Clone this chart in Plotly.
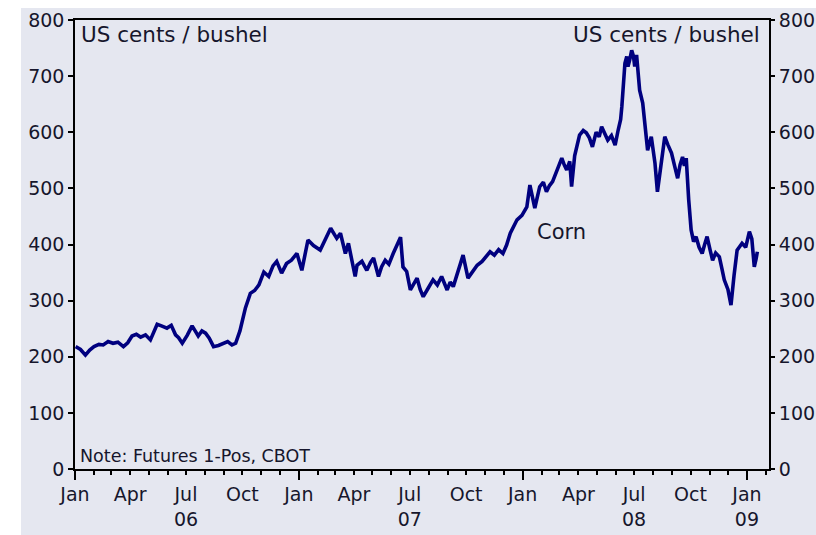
import plotly.graph_objects as go

dates = [
    "2006-01-02", "2006-01-10", "2006-01-18", "2006-01-25", "2006-02-01", "2006-02-09",
    "2006-02-16", "2006-02-24", "2006-03-04", "2006-03-12", "2006-03-21", "2006-03-28",
    "2006-04-04", "2006-04-11", "2006-04-18", "2006-04-26", "2006-05-04", "2006-05-10",
    "2006-05-15", "2006-05-22", "2006-05-31", "2006-06-07", "2006-06-14", "2006-06-19",
    "2006-06-25", "2006-07-03", "2006-07-11", "2006-07-16", "2006-07-21", "2006-07-27",
    "2006-08-02", "2006-08-08", "2006-08-15", "2006-08-23", "2006-08-31", "2006-09-07",
    "2006-09-14", "2006-09-20", "2006-09-27", "2006-10-03", "2006-10-06", "2006-10-14",
    "2006-10-21", "2006-10-28", "2006-11-05", "2006-11-13", "2006-11-20", "2006-11-26",
    "2006-12-04", "2006-12-12", "2006-12-20", "2006-12-29",
    "2007-01-06", "2007-01-16", "2007-01-25", "2007-02-05", "2007-02-14", "2007-02-22",
    "2007-03-04", "2007-03-10", "2007-03-18", "2007-03-23", "2007-04-03", "2007-04-06",
    "2007-04-14", "2007-04-22", "2007-04-28", "2007-05-03", "2007-05-11", "2007-05-16",
    "2007-05-22", "2007-05-28", "2007-06-04", "2007-06-10", "2007-06-16", "2007-06-20",
    "2007-06-26", "2007-07-02", "2007-07-08", "2007-07-13", "2007-07-18", "2007-07-23",
    "2007-07-31", "2007-08-08", "2007-08-15", "2007-08-22", "2007-08-31", "2007-09-05",
    "2007-09-10", "2007-09-18", "2007-09-26", "2007-10-04", "2007-10-11", "2007-10-19",
    "2007-10-27", "2007-11-02", "2007-11-09", "2007-11-16", "2007-11-23", "2007-11-30",
    "2007-12-06", "2007-12-12", "2007-12-17", "2007-12-23", "2007-12-31",
    "2008-01-08", "2008-01-13", "2008-01-21", "2008-01-29", "2008-02-04", "2008-02-09",
    "2008-02-14", "2008-02-19", "2008-02-26", "2008-03-05", "2008-03-09", "2008-03-13",
    "2008-03-18", "2008-03-21", "2008-03-26", "2008-03-31", "2008-04-03", "2008-04-09",
    "2008-04-14", "2008-04-19", "2008-04-24", "2008-04-30", "2008-05-05", "2008-05-09",
    "2008-05-14", "2008-05-19", "2008-05-25", "2008-05-31", "2008-06-05", "2008-06-09",
    "2008-06-11", "2008-06-14", "2008-06-16", "2008-06-19", "2008-06-21", "2008-06-24",
    "2008-06-27", "2008-06-30", "2008-07-02", "2008-07-05", "2008-07-10", "2008-07-15",
    "2008-07-19", "2008-07-23", "2008-07-29", "2008-08-04", "2008-08-08", "2008-08-14",
    "2008-08-20", "2008-08-25", "2008-08-31", "2008-09-05", "2008-09-10", "2008-09-14",
    "2008-09-18", "2008-09-21", "2008-09-24", "2008-09-28", "2008-10-02", "2008-10-06",
    "2008-10-10", "2008-10-15", "2008-10-20", "2008-10-24", "2008-10-28", "2008-11-02",
    "2008-11-06", "2008-11-11", "2008-11-17", "2008-11-21", "2008-11-25", "2008-12-01",
    "2008-12-06", "2008-12-11", "2008-12-16", "2008-12-20", "2008-12-24", "2008-12-30",
    "2009-01-05", "2009-01-09", "2009-01-13", "2009-01-16", "2009-01-18",
]
corn = [
    218, 213, 203, 212, 218, 222,
    221, 227, 224, 226, 218, 225,
    237, 240, 235, 239, 230, 244,
    258, 255, 251, 256, 239, 234,
    224, 238, 255, 246, 237, 246,
    242, 233, 218, 220, 224, 227,
    221, 224, 246, 274, 287, 313,
    318, 328, 351, 343, 362, 370,
    349, 366, 372, 384,
    354, 408, 398, 390, 412, 429,
    411, 420, 384, 402, 343, 363,
    370, 354, 368, 376, 343, 360,
    372, 365, 384, 398, 413, 360,
    352, 319, 331, 340, 320, 307,
    322, 337, 328, 343, 319, 333,
    325, 351, 381, 340, 352, 363,
    370, 379, 387, 381, 391, 384,
    399, 420, 432, 444, 452,
    467, 506, 465, 503, 511, 494,
    505, 512, 530, 554, 542, 533,
    548, 503, 558, 586, 595, 603,
    599, 590, 574, 600, 592, 610,
    596, 586, 594, 577, 604, 623,
    646, 690, 723, 735, 717, 730,
    746, 735, 717, 738, 675, 652,
    610, 568, 592, 545, 494, 540,
    592, 578, 563, 540, 518, 542,
    556, 540, 554, 480, 426, 405,
    414, 395, 384, 400, 414, 390,
    372, 385, 378, 358, 337, 320,
    292, 345, 390, 396, 402, 395,
    423, 410, 360, 375, 387,
]

jan_ticks = ["2006-01-01", "2007-01-01", "2008-01-01", "2009-01-01"]
label_ticks = [
    "2006-01-01", "2006-04-01", "2006-07-01", "2006-10-01",
    "2007-01-01", "2007-04-01", "2007-07-01", "2007-10-01",
    "2008-01-01", "2008-04-01", "2008-07-01", "2008-10-01",
    "2009-01-01",
]
label_text = [
    "Jan", "Apr", "Jul<br>06", "Oct",
    "Jan", "Apr", "Jul<br>07", "Oct",
    "Jan", "Apr", "Jul<br>08", "Oct",
    "Jan<br>09",
]
y_ticks = [0, 100, 200, 300, 400, 500, 600, 700, 800]

BG = "#e5e7f0"
TXT = "#16162c"
FONT = "DejaVu Sans"
x_range = ["2006-01-01", "2009-02-06"]

fig = go.Figure()
fig.add_trace(go.Scatter(x=dates, y=corn, mode="lines",
                         line=dict(color="#00007f", width=3.6),
                         showlegend=False, hoverinfo="skip"))
fig.add_trace(go.Scatter(x=[], y=[], xaxis="x2", yaxis="y", showlegend=False))
fig.add_trace(go.Scatter(x=[], y=[], xaxis="x", yaxis="y2", showlegend=False))

fig.update_layout(
    width=816, height=535,
    margin=dict(l=75, r=47, t=20, b=66, pad=0, autoexpand=False),
    paper_bgcolor=BG, plot_bgcolor=BG,
    font=dict(family=FONT, size=19, color=TXT),
    xaxis=dict(
        range=x_range, type="date", automargin=False,
        tickvals=jan_ticks, ticks="outside", ticklen=9, tickwidth=1.5, tickcolor="black",
        showticklabels=False,
        minor=dict(dtick="M1", tick0="2006-01-01", ticks="outside", ticklen=4,
                   tickwidth=1.5, tickcolor="black", showgrid=False),
        showgrid=False, zeroline=False,
        showline=True, linecolor="black", linewidth=1.5, mirror=True,
    ),
    xaxis2=dict(
        range=x_range, type="date", overlaying="x", anchor="y", side="bottom",
        automargin=False,
        tickvals=label_ticks, ticktext=label_text, ticks="",
        ticklabelstandoff=12,
        showgrid=False, zeroline=False, showline=False,
    ),
    yaxis=dict(
        range=[0, 800], tickvals=y_ticks, ticks="outside", ticklen=5,
        tickwidth=1.5, tickcolor="black", automargin=False,
        showgrid=False, zeroline=False,
        showline=True, linecolor="black", linewidth=1.5, mirror=True,
    ),
    yaxis2=dict(
        range=[0, 800], tickvals=y_ticks, ticks="outside", ticklen=5,
        tickwidth=1.5, tickcolor="black", overlaying="y", side="right", anchor="x",
        automargin=False,
        showgrid=False, zeroline=False, showline=False,
    ),
    shapes=[
        dict(type="rect", xref="paper", yref="paper",
             x0=-0.2, x1=-0.0778, y0=-0.3, y1=1.3,
             fillcolor="white", line=dict(width=0), layer="below"),
        dict(type="rect", xref="paper", yref="paper",
             x0=-0.2, x1=1.2, y0=1.0267, y1=1.3,
             fillcolor="white", line=dict(width=0), layer="below"),
    ],
    annotations=[
        dict(text="US cents / bushel", xref="paper", yref="paper", x=0.006, y=1.0,
             xanchor="left", yanchor="top", showarrow=False, font=dict(size=21.5)),
        dict(text="US cents / bushel", xref="paper", yref="paper", x=0.990, y=1.0,
             xanchor="right", yanchor="top", showarrow=False, font=dict(size=21.5)),
        dict(text="Note: Futures 1-Pos, CBOT", xref="paper", yref="paper", x=0.004, y=0.029,
             xanchor="left", yanchor="middle", showarrow=False, font=dict(size=17.5)),
        dict(text="Corn", xref="paper", yref="paper", x=0.663, y=0.528,
             xanchor="left", yanchor="middle", showarrow=False, font=dict(size=21)),
    ],
)

fig.write_html("out.html",
               config={"displayModeBar": False},
               post_script="document.body.style.margin='0';document.body.style.overflow='hidden';")
